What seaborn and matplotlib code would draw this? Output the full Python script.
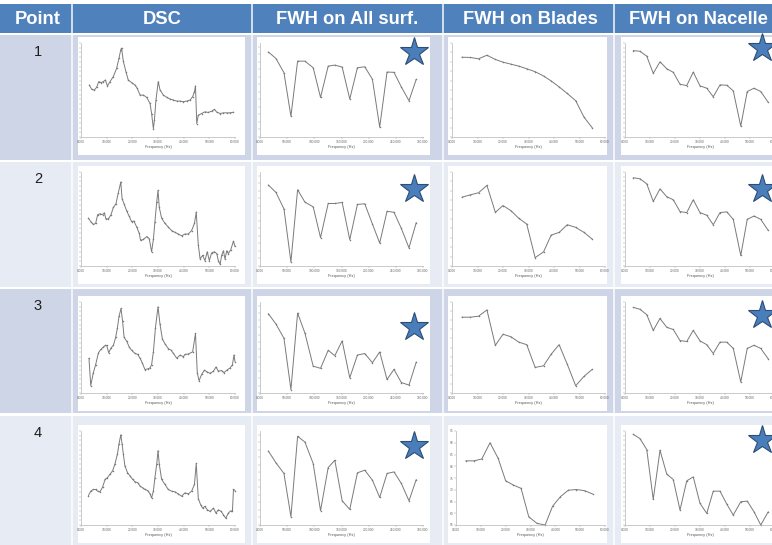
import matplotlib
matplotlib.use("Agg")
import matplotlib.pyplot as plt
import seaborn as sns
from matplotlib.patches import Rectangle
from matplotlib.ticker import MultipleLocator

# ---------------- data ----------------
points = ["1", "2", "3", "4"]
columns = ["Point", "DSC", "FWH on All surf.", "FWH on Blades", "FWH on Nacelle"]

dsc_freq_1 = [3250, 4150, 5200, 6100, 6900, 7800, 8700, 9500, 10300, 11300, 12600, 13900, 14800, 15500,
              15800, 16500, 17500, 18400, 19700, 21000, 21900, 23000, 24300, 25600, 26900, 27500, 28200,
              28600, 29200, 30100, 30800, 32100, 33400, 34700, 36000, 37300, 38600, 39900, 41200, 42500,
              43500, 44200, 44600, 45100, 45700, 47000, 48300, 49600, 50900, 52000, 52900, 54200, 55500,
              56800, 58100, 59400]
dsc_level_1 = [55.4, 50.7, 50.0, 52.9, 58.9, 57.9, 58.9, 60.7, 54.3, 58.9, 64.3, 73.2, 83.9, 92.9, 94.6,
               80.4, 69.6, 60.7, 57.9, 55.4, 51.8, 44.6, 44.6, 42.1, 35.7, 25.0, 8.9, 17.9, 39.3, 58.9,
               50.0, 44.6, 42.1, 40.4, 39.3, 38.2, 38.2, 37.5, 38.2, 39.3, 42.9, 48.2, 54.3, 14.3, 23.2,
               25.0, 26.8, 26.1, 27.5, 29.3, 26.4, 25.0, 25.7, 25.7, 25.7, 26.4]

dsc_freq_2 = [2900, 3800, 4800, 5700, 6500, 7400, 8400, 9100, 9700, 10700, 11700, 12600, 13600, 14500,
              15500, 16000, 16800, 17800, 18800, 19700, 20600, 21700, 22700, 23200, 24300, 25600, 26600,
              27500, 28200, 28800, 29500, 30000, 30500, 31400, 32700, 34000, 35300, 36600, 37900, 39200,
              40500, 41800, 43100, 44200, 44900, 45700, 46400, 47400, 48300, 49200, 50000, 50900, 52000,
              52900, 53500, 54200, 54800, 55500, 56100, 56800, 57400, 58300, 59400, 60000]
dsc_level_2 = [50.9, 47.2, 44.2, 45.3, 54.7, 55.5, 54.7, 56.6, 50.2, 50.2, 54.7, 62.3, 66.0, 77.4, 89.4,
               71.7, 66.0, 58.5, 52.8, 47.2, 47.9, 41.5, 34.7, 27.2, 28.3, 31.3, 29.1, 15.1, 28.3, 47.2,
               67.9, 80.4, 62.3, 50.9, 45.3, 41.5, 37.7, 35.8, 34.0, 32.1, 34.0, 34.0, 37.7, 45.3, 57.4,
               22.6, 7.5, 11.3, 5.7, 15.1, 5.7, 14.0, 15.1, 13.2, 5.7, 1.9, 11.3, 16.2, 7.5, 16.2, 13.2,
               17.0, 26.4, 20.8]

dsc_freq_3 = [3100, 3800, 4800, 5700, 6800, 7800, 8700, 9500, 10000, 10800, 11700, 12600, 13500, 14200,
              14800, 15600, 16200, 16800, 17800, 18800, 19700, 21000, 22100, 23000, 23900, 24900, 26000,
              26900, 27500, 28200, 29000, 30000, 30800, 31700, 32700, 34000, 35100, 36000, 37300, 38600,
              39900, 40500, 41800, 43500, 44600, 45300, 46000, 47000, 48100, 49200, 50300, 51600, 52600,
              53500, 54800, 55700, 56800, 58100, 59000, 59600, 60000]
dsc_level_3 = [38.2, 8.1, 22.3, 31.1, 44.2, 48.1, 50.5, 52.3, 52.3, 44.2, 49.5, 52.3, 61.1, 71.7, 84.1,
               92.9, 78.8, 61.1, 56.9, 50.5, 47.0, 43.5, 42.4, 38.2, 32.9, 25.8, 26.5, 27.6, 31.1, 45.2,
               71.7, 94.7, 75.3, 59.4, 54.1, 48.8, 47.0, 43.5, 38.2, 41.7, 39.9, 42.4, 42.8, 45.2, 65.4,
               22.3, 13.4, 20.5, 25.1, 23.0, 21.6, 24.0, 28.6, 24.0, 24.7, 22.3, 25.1, 27.6, 31.1, 41.7,
               34.6]

dsc_freq_4 = [2900, 3800, 4800, 5700, 6500, 7400, 8400, 9400, 10300, 11300, 12300, 13200, 14200, 14800,
              15500, 16000, 16500, 17100, 18100, 19100, 20100, 21000, 22100, 23000, 24000, 24900, 26000,
              26900, 27500, 28200, 28800, 29500, 30000, 30500, 31400, 32700, 34000, 35300, 36600, 37900,
              39200, 40500, 41800, 43100, 44200, 44900, 45700, 46600, 47400, 48300, 49200, 50300, 51600,
              52600, 53500, 54600, 55500, 56400, 57400, 58300, 59000, 59400, 60000]
dsc_level_4 = [31.3, 36.0, 37.8, 37.8, 36.0, 35.3, 40.3, 48.6, 50.4, 54.0, 57.6, 64.7, 75.5, 86.3, 96.0,
               86.3, 75.5, 62.9, 55.8, 52.2, 48.6, 46.0, 45.0, 41.4, 39.6, 37.8, 36.7, 33.1, 28.8, 36.0,
               50.4, 64.7, 79.1, 64.7, 48.6, 43.2, 37.8, 36.0, 35.3, 33.1, 30.6, 34.2, 33.1, 36.0, 43.2,
               65.5, 28.1, 21.6, 18.0, 19.8, 16.2, 14.4, 18.0, 12.6, 16.2, 14.4, 10.8, 7.2, 12.6, 15.1,
               14.4, 37.8, 36.7]

all_freq = [15300, 29400, 44100, 56900, 69200, 82600, 97900, 111400, 125500, 137700, 151200, 165200,
            179300, 192800, 206900, 220300, 233800, 246600, 260100, 274200, 287600]
all_level_1 = [90.5, 83.5, 68.4, 22.1, 80.7, 80.7, 73.7, 42.1, 75.4, 76.5, 74.4, 40.4, 73.7, 74.7, 61.4,
               10.5, 69.1, 68.8, 53.3, 38.6, 61.4]
all_level_2 = [86.2, 78.2, 60.7, 4.4, 81.1, 68.0, 62.9, 30.2, 66.5, 66.5, 67.6, 28.0, 65.5, 66.2, 44.7,
               24.4, 58.2, 57.1, 40.0, 19.3, 46.2]
all_level_3 = [87.2, 75.7, 60.1, 3.8, 87.8, 66.0, 29.5, 27.1, 46.9, 41.0, 57.3, 16.7, 41.7, 43.4, 33.3,
               45.1, 14.9, 26.0, 11.5, 8.7, 34.0]
all_level_4 = [78.8, 66.1, 54.8, 8.8, 94.3, 88.3, 65.4, 15.2, 61.1, 68.9, 25.8, 16.6, 55.5, 58.3, 47.7,
               29.3, 54.8, 56.5, 44.2, 25.8, 48.4]

blade_freq = [3900, 7200, 10400, 13700, 17000, 20000, 23100, 26200, 29300, 32600, 35900, 38900, 42000,
              45200, 48500, 51800, 55000]
blade_level_1 = [84.9, 84.6, 83.2, 87.0, 82.5, 79.6, 77.5, 75.4, 72.6, 69.5, 64.9, 59.6, 53.3, 46.3, 38.6,
                 21.0, 9.8]
blade_level_2 = [73.2, 75.7, 77.9, 85.7, 57.1, 64.3, 58.9, 50.7, 44.6, 8.9, 15.0, 32.9, 35.7, 43.9, 41.1,
                 35.7, 28.6]
blade_level_3 = [83.3, 83.3, 84.4, 91.3, 52.4, 64.6, 61.8, 55.9, 53.1, 28.1, 29.9, 42.7, 53.1, 31.6, 8.0,
                 18.4, 26.0]
blade_level_4_db = [82.3, 82.3, 83.1, 90.0, 83.3, 73.8, 72.0, 70.6, 58.5, 55.7, 55.0, 63.0, 67.0, 69.8,
                    70.1, 69.6, 68.2]

nacelle_freq = [3300, 6000, 8700, 11300, 14000, 16700, 19300, 22000, 24700, 27300, 30000, 32700, 35300,
                38000, 40700, 43300, 46300, 48900, 51600, 54300, 57300]
nacelle_level_1 = [91.9, 91.2, 86.0, 67.7, 80.0, 72.6, 68.8, 56.1, 54.7, 69.1, 54.4, 51.9, 42.8, 55.4,
                   55.1, 49.1, 11.6, 48.4, 51.9, 48.4, 36.8]
nacelle_level_2 = [93.9, 92.8, 87.4, 68.7, 82.0, 73.7, 70.5, 57.9, 56.8, 70.5, 56.8, 54.0, 43.9, 56.8,
                   57.6, 49.6, 11.2, 49.6, 53.2, 49.6, 37.8]
nacelle_level_3 = [94.1, 92.0, 86.1, 68.8, 81.9, 72.2, 69.8, 57.6, 56.6, 68.8, 57.3, 53.1, 43.4, 55.9,
                   55.9, 49.0, 12.2, 49.0, 52.4, 49.0, 37.5]
nacelle_level_4 = [96.5, 91.9, 80.2, 27.2, 79.5, 54.1, 48.4, 15.9, 47.0, 51.2, 23.0, 12.4, 36.0, 36.0,
                   22.3, 10.6, 24.7, 25.4, 14.1, 0.0, 14.1]

dsc_ticks = [0, 10000, 20000, 30000, 40000, 50000, 60000]
dsc_tick_labels = ["0.000", "10.000", "20.000", "30.000", "40.000", "50.000", "60.000"]
all_ticks = [0, 50000, 100000, 150000, 200000, 250000, 300000]
all_tick_labels = ["0.000", "50.000", "100.000", "150.000", "200.000", "250.000", "300.000"]
blade4_yticks = [55, 60, 65, 70, 75, 80, 85, 90, 95]
x_label = "Frequency (Hz)"

panels = [
    [(dsc_freq_1, dsc_level_1), (all_freq, all_level_1), (blade_freq, blade_level_1), (nacelle_freq, nacelle_level_1)],
    [(dsc_freq_2, dsc_level_2), (all_freq, all_level_2), (blade_freq, blade_level_2), (nacelle_freq, nacelle_level_2)],
    [(dsc_freq_3, dsc_level_3), (all_freq, all_level_3), (blade_freq, blade_level_3), (nacelle_freq, nacelle_level_3)],
    [(dsc_freq_4, dsc_level_4), (all_freq, all_level_4), (blade_freq, blade_level_4_db), (nacelle_freq, nacelle_level_4)],
]

# ---------------- style / layout ----------------
sns.set_style("white")
plt.rcParams['font.family'] = ['Liberation Sans', 'DejaVu Sans']

W, H = 772, 545
fig = plt.figure(figsize=(W / 100, H / 100), dpi=100)
fig.patch.set_facecolor("white")

bg = fig.add_axes([0, 0, 1, 1])
bg.set_xlim(0, W)
bg.set_ylim(H, 0)
bg.axis("off")

header_color = "#4f81bd"
row_colors = ["#cdd5e6", "#e7ebf3", "#cdd5e6", "#e7ebf3"]
col_edges = [0, 72, 252, 443, 614, 772]
header_centers = [38, 162, 347, 530, 698]
header_top, header_bottom = 4, 33
row_tops = [35, 162, 289, 416]
row_bottoms = [160, 287, 413, 545]
panel_tops = [37, 166, 296, 425]
panel_bottoms = [155, 284, 411, 543]
panel_lefts = [78, 257, 448, 621]
panel_rights = [245, 430, 607, 790]
axis_pad = [(3, 10), (3, 7), (4, 2), (4, 15)]

# header band
bg.add_patch(Rectangle((0, header_top), W, header_bottom - header_top, color=header_color, lw=0))
for name, cx in zip(columns, header_centers):
    bg.text(cx, (header_top + header_bottom) / 2 + 0.5, name, color="white", fontsize=13.2,
            fontweight="bold", ha="center", va="center")

# body rows
for r in range(4):
    bg.add_patch(Rectangle((0, row_tops[r]), W, row_bottoms[r] - row_tops[r], color=row_colors[r], lw=0))
    bg.text(38, row_tops[r] + 17, points[r], color="#1e1e1e", fontsize=10.5, ha="center", va="center")
    for c in range(4):
        bg.add_patch(Rectangle((panel_lefts[c], panel_tops[r]), panel_rights[c] - panel_lefts[c],
                               panel_bottoms[r] - panel_tops[r], color="white", lw=0))
for xe in col_edges[1:-1]:
    bg.plot([xe, xe], [header_top, H], color="white", lw=1.3, alpha=0.8)

line_color = "#7a7a7a"
spine_color = "#b5b5b5"

for r in range(4):
    for c in range(4):
        freq, level = panels[r][c]
        L = panel_lefts[c] + axis_pad[c][0]
        if c == 2 and r == 3:
            L = panel_lefts[c] + 8
        R = panel_rights[c] - axis_pad[c][1]
        T = panel_tops[r] + 6
        B = panel_bottoms[r] - 18
        ax = fig.add_axes([L / W, 1 - B / H, (R - L) / W, (B - T) / H])
        ax.set_facecolor("white")
        sns.lineplot(x=freq, y=level, ax=ax, color=line_color, linewidth=0.7, errorbar=None,
                     sort=False, marker="o", markersize=1.1, markeredgewidth=0)
        for l in ax.lines:
            l.set_clip_on(False)
        if c == 1:
            ax.set_xlim(0, 300000)
            ax.set_xticks(all_ticks)
            ax.set_xticklabels(all_tick_labels)
        else:
            ax.set_xlim(0, 60000)
            ax.set_xticks(dsc_ticks)
            ax.set_xticklabels(dsc_tick_labels)
        if c == 2 and r == 3:
            ax.set_ylim(55, 95)
            ax.set_yticks(blade4_yticks)
            ax.set_yticklabels([str(v) for v in blade4_yticks])
        else:
            ax.set_ylim(0, 100)
            step = {0: 5, 1: 8, 2: 10, 3: 5}[c]
            ax.yaxis.set_major_locator(MultipleLocator(step))
            ax.set_yticklabels([])
        ax.tick_params(axis="both", which="both", bottom=True, left=True, length=1.2, width=0.3,
                       pad=0.8, colors="#999999", labelsize=2.3, labelcolor="#666666")
        ax.set_xlabel(x_label, fontsize=2.8, color="#555555", labelpad=0.8)
        ax.set_ylabel("")
        for s in ["top", "right"]:
            ax.spines[s].set_visible(False)
        for s in ["left", "bottom"]:
            ax.spines[s].set_color(spine_color)
            ax.spines[s].set_linewidth(0.5)
        ax.grid(False)

# overlay for stars
fg = fig.add_axes([0, 0, 1, 1], zorder=10)
fg.set_xlim(0, W)
fg.set_ylim(H, 0)
fg.axis("off")
fg.patch.set_alpha(0)
star_all_y = [52, 189, 327, 446]
star_nacelle_y = [48, 189, 315, 440]
for r in range(4):
    fg.plot(panel_rights[1] - 16, star_all_y[r], marker="*", markersize=21, markerfacecolor="#4a7ebb",
            markeredgecolor="#2c4d75", markeredgewidth=0.8, clip_on=False)
    fg.plot(762, star_nacelle_y[r], marker="*", markersize=21, markerfacecolor="#4a7ebb",
            markeredgecolor="#2c4d75", markeredgewidth=0.8, clip_on=False)

fig.savefig("out.png", dpi=100)
